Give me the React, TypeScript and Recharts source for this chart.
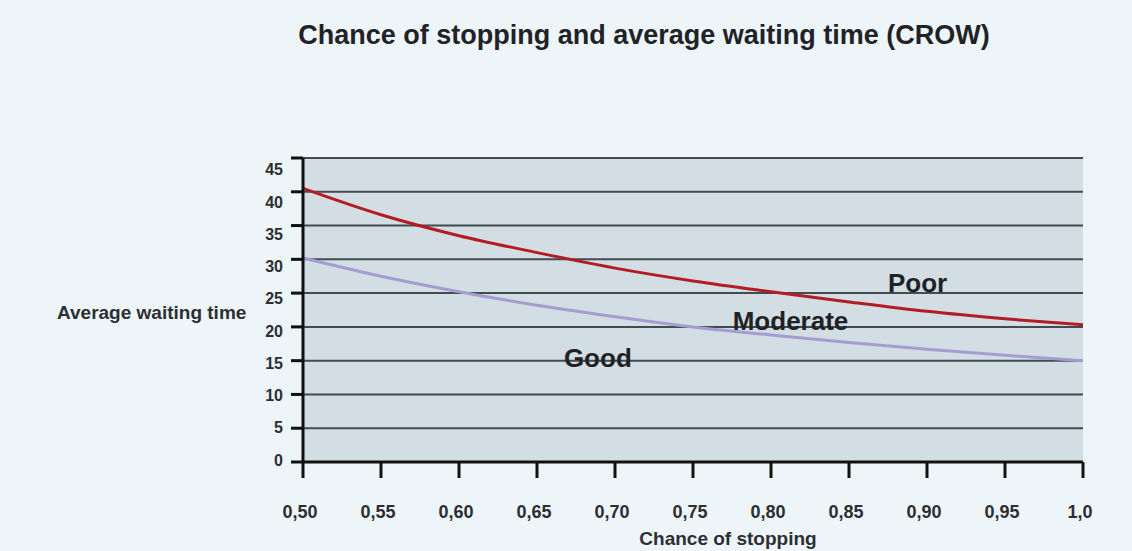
import {
  LineChart, Line, XAxis, YAxis, CartesianGrid, ReferenceDot,
} from 'recharts';

const chances = [0.5, 0.55, 0.6, 0.65, 0.7, 0.75, 0.8, 0.85, 0.9, 0.95, 1.0];
const poorLimit = [40.5, 36.6, 33.5, 31.0, 28.7, 26.8, 25.2, 23.7, 22.3, 21.2, 20.3];
const moderateLimit = [30.2, 27.5, 25.2, 23.2, 21.5, 20.0, 18.8, 17.7, 16.7, 15.8, 15.0];
const xTicks = [0.5, 0.55, 0.6, 0.65, 0.7, 0.75, 0.8, 0.85, 0.9, 0.95, 1.0];
const yTicks = [0, 5, 10, 15, 20, 25, 30, 35, 40, 45];
const zones = [
  { name: 'Poor', x: 0.894, y: 26.6 },
  { name: 'Moderate', x: 0.8125, y: 20.9 },
  { name: 'Good', x: 0.689, y: 15.5 },
];

const data = chances.map((c, i) => ({ chance: c, poor: poorLimit[i], moderate: moderateLimit[i] }));

const FONT = '"Liberation Sans", Arial, sans-serif';
const TEXT = '#2b2f33';

const fmtX = (v: number) => (v === 1 ? '1,0' : v.toFixed(2).replace('.', ','));

function XTick({ x, y, payload }: { x?: number; y?: number; payload?: { value: number } }) {
  return (
    <text x={(x ?? 0) - 3} y={(y ?? 0) + 38} textAnchor="middle" fontSize={18} fontWeight={700}
      fill={TEXT} fontFamily={FONT}>
      {fmtX(payload?.value ?? 0)}
    </text>
  );
}

function YTick({ x, y, payload }: { x?: number; y?: number; payload?: { value: number } }) {
  const v = payload?.value ?? 0;
  // the printed labels sit a little lower than their gridlines, more so towards the top
  const drift = -2 + v * 0.31;
  return (
    <text x={(x ?? 0) - 6} y={(y ?? 0) + drift} dominantBaseline="central" textAnchor="end"
      fontSize={16} fontWeight={700} fill={TEXT} fontFamily={FONT}>
      {v}
    </text>
  );
}

export default function App() {
  return (
    <div style={{
      position: 'absolute', left: 0, top: 0, width: 1132, height: 551,
      background: '#eef5f8', fontFamily: FONT, overflow: 'hidden',
    }}>
      <div style={{
        position: 'absolute', left: 644, top: 22, transform: 'translateX(-50%)', whiteSpace: 'nowrap',
        fontSize: 27, lineHeight: '27px', fontWeight: 700, color: '#1f2226',
      }}>
        Chance of stopping and average waiting time (CROW)
      </div>
      <div style={{
        position: 'absolute', left: 57, top: 303, whiteSpace: 'nowrap',
        fontSize: 19, lineHeight: '19px', fontWeight: 700, color: TEXT,
      }}>
        Average waiting time
      </div>
      <div style={{
        position: 'absolute', left: 728, top: 529, transform: 'translateX(-50%)', whiteSpace: 'nowrap',
        fontSize: 19, lineHeight: '19px', fontWeight: 700, color: TEXT,
      }}>
        Chance of stopping
      </div>
      <div style={{ position: 'absolute', left: 0, top: 0 }}>
        <LineChart width={1132} height={551} data={data}
          margin={{ top: 158, right: 49, left: 243, bottom: 0 }}>
          <CartesianGrid vertical={false} fill="#d2dee3" stroke="#414b50" strokeWidth={2} />
          <XAxis
            dataKey="chance"
            type="number"
            domain={[0.5, 1]}
            ticks={xTicks}
            tick={<XTick />}
            tickSize={16}
            tickLine={{ stroke: '#111', strokeWidth: 3 }}
            axisLine={{ stroke: '#111', strokeWidth: 3 }}
            height={89}
          />
          <YAxis
            type="number"
            domain={[0, 45]}
            ticks={yTicks}
            tick={<YTick />}
            tickSize={12}
            tickLine={{ stroke: '#111', strokeWidth: 3 }}
            axisLine={{ stroke: '#111', strokeWidth: 3 }}
            width={60}
          />
          <Line type="monotone" dataKey="moderate" stroke="#a59cd1" strokeWidth={3}
            dot={false} isAnimationActive={false} />
          <Line type="monotone" dataKey="poor" stroke="#b31c24" strokeWidth={3}
            dot={false} isAnimationActive={false} />
          {zones.map((z) => (
            <ReferenceDot key={z.name} x={z.x} y={z.y} r={0} stroke="none"
              label={{ value: z.name, position: 'center',
                style: { fontSize: 26, fontWeight: 700, fill: '#1f2226', fontFamily: FONT } }} />
          ))}
        </LineChart>
      </div>
    </div>
  );
}
